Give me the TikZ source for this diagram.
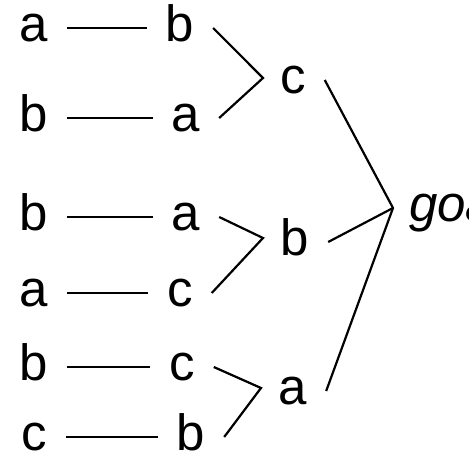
\documentclass[tikz,border=0pt]{standalone}
\usepackage{fontspec}
\setmainfont{Liberation Sans}
\begin{document}
\begin{tikzpicture}[x=1pt,y=-1pt,
  lt/.style={inner sep=0pt,outer sep=0pt,text height=26.5pt,text depth=0pt,font=\fontsize{51}{60}\selectfont},
  ln/.style={line width=2.2pt,shorten <=19pt,shorten >=19pt},
  jl/.style={line width=2.2pt}]
\useasboundingbox (0,0) rectangle (469,457);
% left column
\node[lt] (l1) at (34,28) {a};
\node[lt] (l2) at (34,118) {b};
\node[lt] (l3) at (34,217) {b};
\node[lt] (l4) at (34,293) {a};
\node[lt] (l5) at (34,367) {b};
\node[lt] (l6) at (34,437) {c};
% middle column
\node[lt] (m1) at (180,28) {b};
\node[lt] (m2) at (186,118) {a};
\node[lt] (m3) at (186,217) {a};
\node[lt] (m4) at (180,293) {c};
\node[lt] (m5) at (182,367) {c};
\node[lt] (m6) at (191,437) {b};
% junction letters
\node[lt] (j1) at (293,80) {c};
\node[lt] (j2) at (295,242) {b};
\node[lt] (j3) at (293,391) {a};
\node[lt,anchor=west,font=\fontsize{51}{60}\selectfont\itshape] (goal) at (409,208) {goal};
% connector ends, just right of the letters
\foreach \n in {m1,m2,m3,m4,m5,m6,j1,j2,j3}
  \coordinate (\n e) at ([xshift=19pt]\n.east);
% vertices
\coordinate (v1) at (263,78);
\coordinate (v2) at (263,238);
\coordinate (v3) at (261,388);
\coordinate (gv) at (393,208);
% horizontal connectors
\foreach \i in {1,...,6} \draw[ln] (l\i) -- (m\i);
% first level joins
\draw[jl] (m1e) -- (v1) -- (m2e);
\draw[jl] (m3e) -- (v2) -- (m4e);
\draw[jl] (m5e) -- (v3) -- (m6e);
% goal joins
\draw[jl] (j1e) -- (gv) -- (j3e);
\draw[jl] (j2e) -- (gv);
\end{tikzpicture}
\end{document}
